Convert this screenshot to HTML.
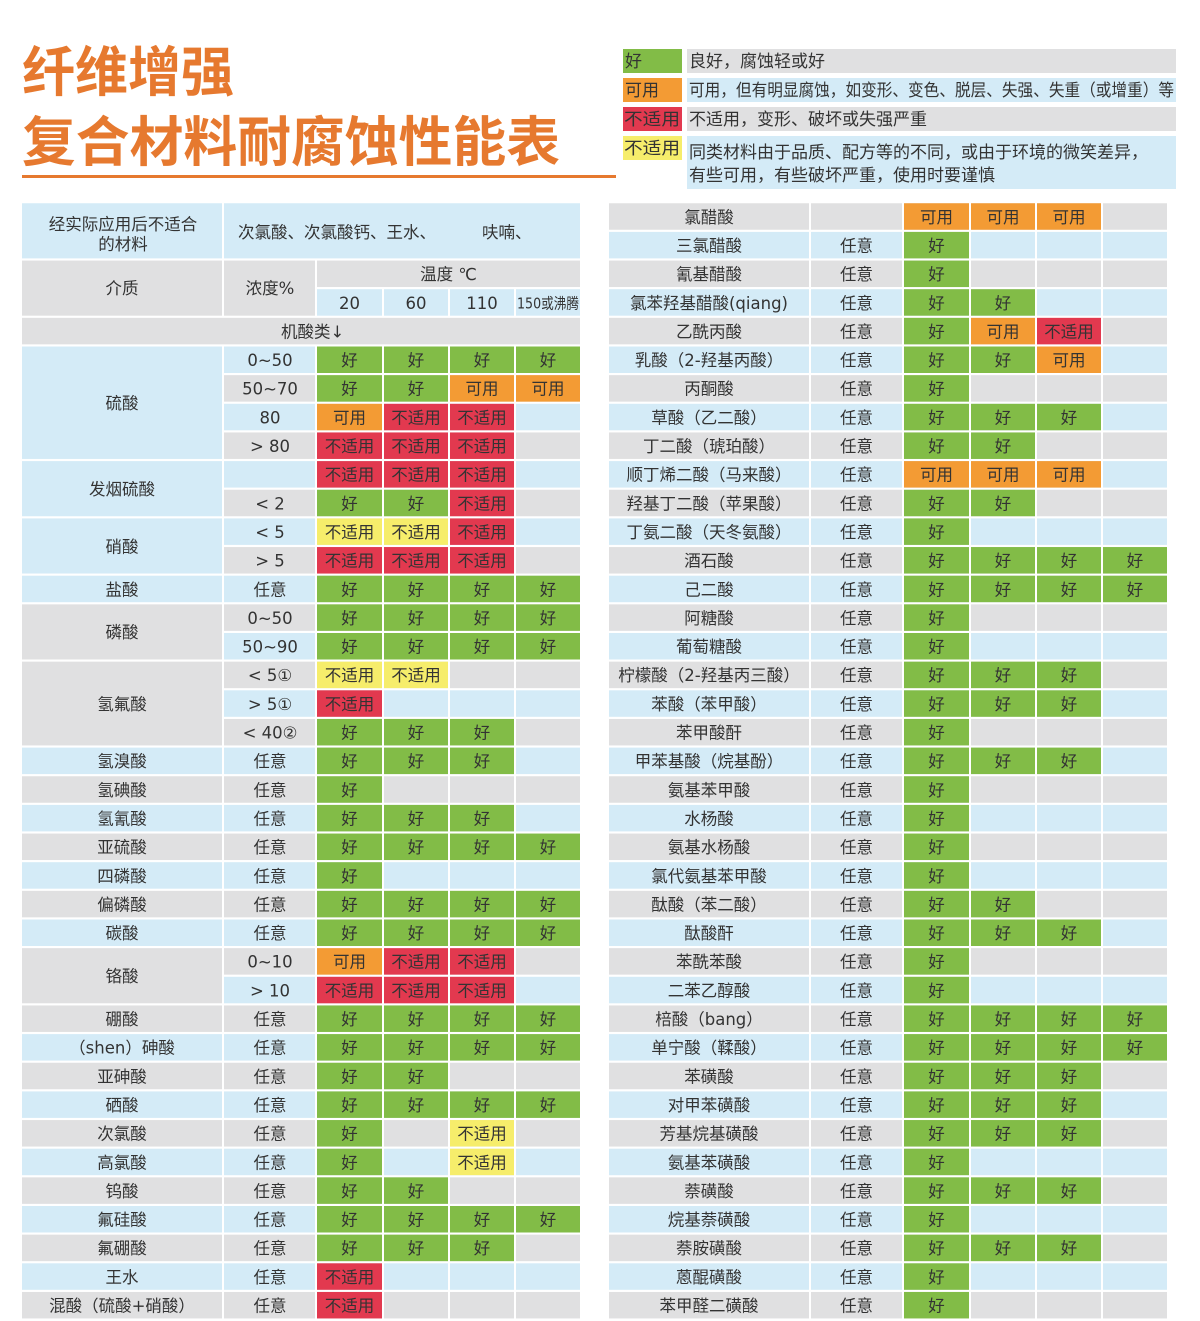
<!DOCTYPE html>
<html>
<head>
<meta charset="utf-8">
<style>
html,body{margin:0;padding:0;background:#fff;}
svg{display:block;}
text{font-family:"DejaVu Sans","Liberation Sans","Noto Sans CJK SC",sans-serif;font-size:16.5px;fill:#333;}
.t text,text.c{text-anchor:middle;}
.b{fill:#d4ebf7}.g{fill:#e0e0e1}.G{fill:#82bc47}.O{fill:#f39b34}.R{fill:#e2394f}.Y{fill:#f6ed6b}
.w{fill:#fff}
</style>
</head>
<body>
<svg width="1200" height="1321" viewBox="0 0 1200 1321" xmlns="http://www.w3.org/2000/svg">
<!-- Title -->
<text x="22" y="91" textLength="212" lengthAdjust="spacingAndGlyphs" style="font-family:'Noto Sans CJK SC','Liberation Sans',sans-serif;font-size:54px;font-weight:bold;fill:#e6792f;">纤维增强</text>
<text x="22" y="161" textLength="538" lengthAdjust="spacingAndGlyphs" style="font-family:'Noto Sans CJK SC','Liberation Sans',sans-serif;font-size:54px;font-weight:bold;fill:#e6792f;">复合材料耐腐蚀性能表</text>
<rect x="22" y="175" width="594" height="3" fill="#e6792f"/>

<!-- Legend -->
<rect class="G" x="623" y="49" width="59" height="24"/>
<rect class="g" x="687" y="49" width="489" height="24"/>
<text x="625" y="67" style="font-size:17px">好</text>
<text x="689" y="67" style="font-size:17px">良好，腐蚀轻或好</text>
<rect class="O" x="623" y="78" width="59" height="24"/>
<rect class="b" x="687" y="78" width="489" height="24"/>
<text x="625" y="96" style="font-size:17px">可用</text>
<text x="689" y="96" textLength="485" lengthAdjust="spacingAndGlyphs" style="font-size:17px">可用，但有明显腐蚀，如变形、变色、脱层、失强、失重（或增重）等</text>
<rect class="R" x="623" y="107" width="59" height="24"/>
<rect class="g" x="687" y="107" width="489" height="24"/>
<text x="624" y="125" textLength="56" lengthAdjust="spacingAndGlyphs" style="font-size:17px">不适用</text>
<text x="689" y="125" style="font-size:17px">不适用，变形、破坏或失强严重</text>
<rect class="Y" x="623" y="136" width="59" height="24"/>
<rect class="b" x="687" y="136" width="489" height="53"/>
<text x="624" y="154" textLength="56" lengthAdjust="spacingAndGlyphs" style="font-size:17px">不适用</text>
<text x="689" y="158" style="font-size:17px">同类材料由于品质、配方等的不同，或由于环境的微笑差异，</text>
<text x="689" y="181" style="font-size:17px">有些可用，有些破坏严重，使用时要谨慎</text>

<!-- Left header -->
<rect class="b" x="22" y="203.25" width="200" height="55.15"/>
<rect class="b" x="224" y="203.25" width="356" height="55.15"/>
<text class="c" x="123" y="230">经实际应用后不适合</text>
<text class="c" x="123" y="250">的材料</text>
<text x="238" y="238">次氯酸、次氯酸钙、王水、</text>
<text x="482" y="238">呋喃、</text>
<rect class="g" x="22" y="260.55" width="200" height="55.15"/>
<rect class="g" x="224" y="260.55" width="91" height="55.15"/>
<rect class="g" x="317" y="260.55" width="263" height="26.5"/>
<rect class="b" x="317" y="289.2" width="65" height="26.5"/>
<rect class="b" x="384" y="289.2" width="64" height="26.5"/>
<rect class="b" x="450" y="289.2" width="64" height="26.5"/>
<rect class="b" x="516" y="289.2" width="64" height="26.5"/>
<text class="c" x="122" y="294">介质</text>
<text class="c" x="270" y="294">浓度%</text>
<text class="c" x="448.5" y="280">温度 ℃</text>
<text class="c" x="349.5" y="309">20</text>
<text class="c" x="416" y="309">60</text>
<text class="c" x="482" y="309">110</text>
<text x="517" y="308.5" textLength="62" lengthAdjust="spacingAndGlyphs" style="font-size:15px">150或沸腾</text>
<rect class="g" x="22" y="317.85" width="558" height="26.5"/>
<text x="281" y="337.5">机酸类↓</text>

<!-- Left merged name cells -->
<rect class="b" x="22" y="346.5" width="200" height="112.45"/>
<text class="c" x="122" y="409">硫酸</text>
<rect class="b" x="22" y="461.1" width="200" height="55.15"/>
<text class="c" x="122" y="495">发烟硫酸</text>
<rect class="b" x="22" y="518.4" width="200" height="55.15"/>
<text class="c" x="122" y="552.3">硝酸</text>
<rect class="g" x="22" y="604.35" width="200" height="55.15"/>
<text class="c" x="122" y="638.2">磷酸</text>
<rect class="g" x="22" y="661.65" width="200" height="83.8"/>
<text class="c" x="122" y="709.9">氢氟酸</text>
<rect class="g" x="22" y="948.15" width="200" height="55.15"/>
<text class="c" x="122" y="982">铬酸</text>

<!-- Left data rows -->
<g class="t">
<g transform="translate(0,346.5)"><rect class="b" x="224" width="356" height="26.5"/><rect class="G" x="317" width="65" height="26.5"/><rect class="G" x="384" width="64" height="26.5"/><rect class="G" x="450" width="64" height="26.5"/><rect class="G" x="516" width="64" height="26.5"/><text y="19.6"><tspan x="270">0~50</tspan><tspan x="349.5">好</tspan><tspan x="416">好</tspan><tspan x="482">好</tspan><tspan x="548">好</tspan></text></g>
<g transform="translate(0,375.15)"><rect class="g" x="224" width="356" height="26.5"/><rect class="G" x="317" width="65" height="26.5"/><rect class="G" x="384" width="64" height="26.5"/><rect class="O" x="450" width="64" height="26.5"/><rect class="O" x="516" width="64" height="26.5"/><text y="19.6"><tspan x="270">50~70</tspan><tspan x="349.5">好</tspan><tspan x="416">好</tspan><tspan x="482">可用</tspan><tspan x="548">可用</tspan></text></g>
<g transform="translate(0,403.8)"><rect class="b" x="224" width="356" height="26.5"/><rect class="O" x="317" width="65" height="26.5"/><rect class="R" x="384" width="64" height="26.5"/><rect class="R" x="450" width="64" height="26.5"/><text y="19.6"><tspan x="270">80</tspan><tspan x="349.5">可用</tspan><tspan x="416">不适用</tspan><tspan x="482">不适用</tspan></text></g>
<g transform="translate(0,432.45)"><rect class="g" x="224" width="356" height="26.5"/><rect class="R" x="317" width="65" height="26.5"/><rect class="R" x="384" width="64" height="26.5"/><rect class="R" x="450" width="64" height="26.5"/><text y="19.6"><tspan x="270">&gt; 80</tspan><tspan x="349.5">不适用</tspan><tspan x="416">不适用</tspan><tspan x="482">不适用</tspan></text></g>
<g transform="translate(0,461.1)"><rect class="b" x="224" width="356" height="26.5"/><rect class="R" x="317" width="65" height="26.5"/><rect class="R" x="384" width="64" height="26.5"/><rect class="R" x="450" width="64" height="26.5"/><text y="19.6"><tspan x="349.5">不适用</tspan><tspan x="416">不适用</tspan><tspan x="482">不适用</tspan></text></g>
<g transform="translate(0,489.75)"><rect class="g" x="224" width="356" height="26.5"/><rect class="G" x="317" width="65" height="26.5"/><rect class="G" x="384" width="64" height="26.5"/><rect class="R" x="450" width="64" height="26.5"/><text y="19.6"><tspan x="270">&lt; 2</tspan><tspan x="349.5">好</tspan><tspan x="416">好</tspan><tspan x="482">不适用</tspan></text></g>
<g transform="translate(0,518.4)"><rect class="b" x="224" width="356" height="26.5"/><rect class="Y" x="317" width="65" height="26.5"/><rect class="Y" x="384" width="64" height="26.5"/><rect class="R" x="450" width="64" height="26.5"/><text y="19.6"><tspan x="270">&lt; 5</tspan><tspan x="349.5">不适用</tspan><tspan x="416">不适用</tspan><tspan x="482">不适用</tspan></text></g>
<g transform="translate(0,547.05)"><rect class="g" x="224" width="356" height="26.5"/><rect class="R" x="317" width="65" height="26.5"/><rect class="R" x="384" width="64" height="26.5"/><rect class="R" x="450" width="64" height="26.5"/><text y="19.6"><tspan x="270">&gt; 5</tspan><tspan x="349.5">不适用</tspan><tspan x="416">不适用</tspan><tspan x="482">不适用</tspan></text></g>
<g transform="translate(0,575.7)"><rect class="b" x="22" width="558" height="26.5"/><rect class="G" x="317" width="65" height="26.5"/><rect class="G" x="384" width="64" height="26.5"/><rect class="G" x="450" width="64" height="26.5"/><rect class="G" x="516" width="64" height="26.5"/><text y="19.6"><tspan x="122">盐酸</tspan><tspan x="270">任意</tspan><tspan x="349.5">好</tspan><tspan x="416">好</tspan><tspan x="482">好</tspan><tspan x="548">好</tspan></text></g>
<g transform="translate(0,604.35)"><rect class="g" x="224" width="356" height="26.5"/><rect class="G" x="317" width="65" height="26.5"/><rect class="G" x="384" width="64" height="26.5"/><rect class="G" x="450" width="64" height="26.5"/><rect class="G" x="516" width="64" height="26.5"/><text y="19.6"><tspan x="270">0~50</tspan><tspan x="349.5">好</tspan><tspan x="416">好</tspan><tspan x="482">好</tspan><tspan x="548">好</tspan></text></g>
<g transform="translate(0,633)"><rect class="b" x="224" width="356" height="26.5"/><rect class="G" x="317" width="65" height="26.5"/><rect class="G" x="384" width="64" height="26.5"/><rect class="G" x="450" width="64" height="26.5"/><rect class="G" x="516" width="64" height="26.5"/><text y="19.6"><tspan x="270">50~90</tspan><tspan x="349.5">好</tspan><tspan x="416">好</tspan><tspan x="482">好</tspan><tspan x="548">好</tspan></text></g>
<g transform="translate(0,661.65)"><rect class="g" x="224" width="356" height="26.5"/><rect class="Y" x="317" width="65" height="26.5"/><rect class="Y" x="384" width="64" height="26.5"/><text y="19.6"><tspan x="270">&lt; 5①</tspan><tspan x="349.5">不适用</tspan><tspan x="416">不适用</tspan></text></g>
<g transform="translate(0,690.3)"><rect class="b" x="224" width="356" height="26.5"/><rect class="R" x="317" width="65" height="26.5"/><text y="19.6"><tspan x="270">&gt; 5①</tspan><tspan x="349.5">不适用</tspan></text></g>
<g transform="translate(0,718.95)"><rect class="g" x="224" width="356" height="26.5"/><rect class="G" x="317" width="65" height="26.5"/><rect class="G" x="384" width="64" height="26.5"/><rect class="G" x="450" width="64" height="26.5"/><text y="19.6"><tspan x="270">&lt; 40②</tspan><tspan x="349.5">好</tspan><tspan x="416">好</tspan><tspan x="482">好</tspan></text></g>
<g transform="translate(0,747.6)"><rect class="b" x="22" width="558" height="26.5"/><rect class="G" x="317" width="65" height="26.5"/><rect class="G" x="384" width="64" height="26.5"/><rect class="G" x="450" width="64" height="26.5"/><text y="19.6"><tspan x="122">氢溴酸</tspan><tspan x="270">任意</tspan><tspan x="349.5">好</tspan><tspan x="416">好</tspan><tspan x="482">好</tspan></text></g>
<g transform="translate(0,776.25)"><rect class="g" x="22" width="558" height="26.5"/><rect class="G" x="317" width="65" height="26.5"/><text y="19.6"><tspan x="122">氢碘酸</tspan><tspan x="270">任意</tspan><tspan x="349.5">好</tspan></text></g>
<g transform="translate(0,804.9)"><rect class="b" x="22" width="558" height="26.5"/><rect class="G" x="317" width="65" height="26.5"/><rect class="G" x="384" width="64" height="26.5"/><rect class="G" x="450" width="64" height="26.5"/><text y="19.6"><tspan x="122">氢氰酸</tspan><tspan x="270">任意</tspan><tspan x="349.5">好</tspan><tspan x="416">好</tspan><tspan x="482">好</tspan></text></g>
<g transform="translate(0,833.55)"><rect class="g" x="22" width="558" height="26.5"/><rect class="G" x="317" width="65" height="26.5"/><rect class="G" x="384" width="64" height="26.5"/><rect class="G" x="450" width="64" height="26.5"/><rect class="G" x="516" width="64" height="26.5"/><text y="19.6"><tspan x="122">亚硫酸</tspan><tspan x="270">任意</tspan><tspan x="349.5">好</tspan><tspan x="416">好</tspan><tspan x="482">好</tspan><tspan x="548">好</tspan></text></g>
<g transform="translate(0,862.2)"><rect class="b" x="22" width="558" height="26.5"/><rect class="G" x="317" width="65" height="26.5"/><text y="19.6"><tspan x="122">四磷酸</tspan><tspan x="270">任意</tspan><tspan x="349.5">好</tspan></text></g>
<g transform="translate(0,890.85)"><rect class="g" x="22" width="558" height="26.5"/><rect class="G" x="317" width="65" height="26.5"/><rect class="G" x="384" width="64" height="26.5"/><rect class="G" x="450" width="64" height="26.5"/><rect class="G" x="516" width="64" height="26.5"/><text y="19.6"><tspan x="122">偏磷酸</tspan><tspan x="270">任意</tspan><tspan x="349.5">好</tspan><tspan x="416">好</tspan><tspan x="482">好</tspan><tspan x="548">好</tspan></text></g>
<g transform="translate(0,919.5)"><rect class="b" x="22" width="558" height="26.5"/><rect class="G" x="317" width="65" height="26.5"/><rect class="G" x="384" width="64" height="26.5"/><rect class="G" x="450" width="64" height="26.5"/><rect class="G" x="516" width="64" height="26.5"/><text y="19.6"><tspan x="122">碳酸</tspan><tspan x="270">任意</tspan><tspan x="349.5">好</tspan><tspan x="416">好</tspan><tspan x="482">好</tspan><tspan x="548">好</tspan></text></g>
<g transform="translate(0,948.15)"><rect class="g" x="224" width="356" height="26.5"/><rect class="O" x="317" width="65" height="26.5"/><rect class="R" x="384" width="64" height="26.5"/><rect class="R" x="450" width="64" height="26.5"/><text y="19.6"><tspan x="270">0~10</tspan><tspan x="349.5">可用</tspan><tspan x="416">不适用</tspan><tspan x="482">不适用</tspan></text></g>
<g transform="translate(0,976.8)"><rect class="b" x="224" width="356" height="26.5"/><rect class="R" x="317" width="65" height="26.5"/><rect class="R" x="384" width="64" height="26.5"/><rect class="R" x="450" width="64" height="26.5"/><text y="19.6"><tspan x="270">&gt; 10</tspan><tspan x="349.5">不适用</tspan><tspan x="416">不适用</tspan><tspan x="482">不适用</tspan></text></g>
<g transform="translate(0,1005.45)"><rect class="g" x="22" width="558" height="26.5"/><rect class="G" x="317" width="65" height="26.5"/><rect class="G" x="384" width="64" height="26.5"/><rect class="G" x="450" width="64" height="26.5"/><rect class="G" x="516" width="64" height="26.5"/><text y="19.6"><tspan x="122">硼酸</tspan><tspan x="270">任意</tspan><tspan x="349.5">好</tspan><tspan x="416">好</tspan><tspan x="482">好</tspan><tspan x="548">好</tspan></text></g>
<g transform="translate(0,1034.1)"><rect class="b" x="22" width="558" height="26.5"/><rect class="G" x="317" width="65" height="26.5"/><rect class="G" x="384" width="64" height="26.5"/><rect class="G" x="450" width="64" height="26.5"/><rect class="G" x="516" width="64" height="26.5"/><text y="19.6"><tspan x="122">（shen）砷酸</tspan><tspan x="270">任意</tspan><tspan x="349.5">好</tspan><tspan x="416">好</tspan><tspan x="482">好</tspan><tspan x="548">好</tspan></text></g>
<g transform="translate(0,1062.75)"><rect class="g" x="22" width="558" height="26.5"/><rect class="G" x="317" width="65" height="26.5"/><rect class="G" x="384" width="64" height="26.5"/><text y="19.6"><tspan x="122">亚砷酸</tspan><tspan x="270">任意</tspan><tspan x="349.5">好</tspan><tspan x="416">好</tspan></text></g>
<g transform="translate(0,1091.4)"><rect class="b" x="22" width="558" height="26.5"/><rect class="G" x="317" width="65" height="26.5"/><rect class="G" x="384" width="64" height="26.5"/><rect class="G" x="450" width="64" height="26.5"/><rect class="G" x="516" width="64" height="26.5"/><text y="19.6"><tspan x="122">硒酸</tspan><tspan x="270">任意</tspan><tspan x="349.5">好</tspan><tspan x="416">好</tspan><tspan x="482">好</tspan><tspan x="548">好</tspan></text></g>
<g transform="translate(0,1120.05)"><rect class="g" x="22" width="558" height="26.5"/><rect class="G" x="317" width="65" height="26.5"/><rect class="Y" x="450" width="64" height="26.5"/><text y="19.6"><tspan x="122">次氯酸</tspan><tspan x="270">任意</tspan><tspan x="349.5">好</tspan><tspan x="482">不适用</tspan></text></g>
<g transform="translate(0,1148.7)"><rect class="b" x="22" width="558" height="26.5"/><rect class="G" x="317" width="65" height="26.5"/><rect class="Y" x="450" width="64" height="26.5"/><text y="19.6"><tspan x="122">高氯酸</tspan><tspan x="270">任意</tspan><tspan x="349.5">好</tspan><tspan x="482">不适用</tspan></text></g>
<g transform="translate(0,1177.35)"><rect class="g" x="22" width="558" height="26.5"/><rect class="G" x="317" width="65" height="26.5"/><rect class="G" x="384" width="64" height="26.5"/><text y="19.6"><tspan x="122">钨酸</tspan><tspan x="270">任意</tspan><tspan x="349.5">好</tspan><tspan x="416">好</tspan></text></g>
<g transform="translate(0,1206)"><rect class="b" x="22" width="558" height="26.5"/><rect class="G" x="317" width="65" height="26.5"/><rect class="G" x="384" width="64" height="26.5"/><rect class="G" x="450" width="64" height="26.5"/><rect class="G" x="516" width="64" height="26.5"/><text y="19.6"><tspan x="122">氟硅酸</tspan><tspan x="270">任意</tspan><tspan x="349.5">好</tspan><tspan x="416">好</tspan><tspan x="482">好</tspan><tspan x="548">好</tspan></text></g>
<g transform="translate(0,1234.65)"><rect class="g" x="22" width="558" height="26.5"/><rect class="G" x="317" width="65" height="26.5"/><rect class="G" x="384" width="64" height="26.5"/><rect class="G" x="450" width="64" height="26.5"/><text y="19.6"><tspan x="122">氟硼酸</tspan><tspan x="270">任意</tspan><tspan x="349.5">好</tspan><tspan x="416">好</tspan><tspan x="482">好</tspan></text></g>
<g transform="translate(0,1263.3)"><rect class="b" x="22" width="558" height="26.5"/><rect class="R" x="317" width="65" height="26.5"/><text y="19.6"><tspan x="122">王水</tspan><tspan x="270">任意</tspan><tspan x="349.5">不适用</tspan></text></g>
<g transform="translate(0,1291.95)"><rect class="g" x="22" width="558" height="26.5"/><rect class="R" x="317" width="65" height="26.5"/><text y="19.6"><tspan x="122">混酸（硫酸+硝酸）</tspan><tspan x="270">任意</tspan><tspan x="349.5">不适用</tspan></text></g>
</g>
<!-- Left vertical gaps -->
<rect class="w" x="222" y="346.5" width="2" height="972"/>
<rect class="w" x="315" y="346.5" width="2" height="972"/>
<rect class="w" x="382" y="346.5" width="2" height="972"/>
<rect class="w" x="448" y="346.5" width="2" height="972"/>
<rect class="w" x="514" y="346.5" width="2" height="972"/>

<!-- Right data rows -->
<g class="t">
<g transform="translate(0,203.25)"><rect class="g" x="609" width="558" height="26.5"/><rect class="O" x="904" width="65" height="26.5"/><rect class="O" x="971" width="64" height="26.5"/><rect class="O" x="1037" width="64" height="26.5"/><text y="19.6"><tspan x="709">氯醋酸</tspan><tspan x="936.5">可用</tspan><tspan x="1003">可用</tspan><tspan x="1069">可用</tspan></text></g>
<g transform="translate(0,231.9)"><rect class="b" x="609" width="558" height="26.5"/><rect class="G" x="904" width="65" height="26.5"/><text y="19.6"><tspan x="709">三氯醋酸</tspan><tspan x="856.5">任意</tspan><tspan x="936.5">好</tspan></text></g>
<g transform="translate(0,260.55)"><rect class="g" x="609" width="558" height="26.5"/><rect class="G" x="904" width="65" height="26.5"/><text y="19.6"><tspan x="709">氰基醋酸</tspan><tspan x="856.5">任意</tspan><tspan x="936.5">好</tspan></text></g>
<g transform="translate(0,289.2)"><rect class="b" x="609" width="558" height="26.5"/><rect class="G" x="904" width="65" height="26.5"/><rect class="G" x="971" width="64" height="26.5"/><text y="19.6"><tspan x="709">氯苯羟基醋酸(qiang)</tspan><tspan x="856.5">任意</tspan><tspan x="936.5">好</tspan><tspan x="1003">好</tspan></text></g>
<g transform="translate(0,317.85)"><rect class="g" x="609" width="558" height="26.5"/><rect class="G" x="904" width="65" height="26.5"/><rect class="O" x="971" width="64" height="26.5"/><rect class="R" x="1037" width="64" height="26.5"/><text y="19.6"><tspan x="709">乙酰丙酸</tspan><tspan x="856.5">任意</tspan><tspan x="936.5">好</tspan><tspan x="1003">可用</tspan><tspan x="1069">不适用</tspan></text></g>
<g transform="translate(0,346.5)"><rect class="b" x="609" width="558" height="26.5"/><rect class="G" x="904" width="65" height="26.5"/><rect class="G" x="971" width="64" height="26.5"/><rect class="O" x="1037" width="64" height="26.5"/><text y="19.6"><tspan x="709">乳酸（2-羟基丙酸）</tspan><tspan x="856.5">任意</tspan><tspan x="936.5">好</tspan><tspan x="1003">好</tspan><tspan x="1069">可用</tspan></text></g>
<g transform="translate(0,375.15)"><rect class="g" x="609" width="558" height="26.5"/><rect class="G" x="904" width="65" height="26.5"/><text y="19.6"><tspan x="709">丙酮酸</tspan><tspan x="856.5">任意</tspan><tspan x="936.5">好</tspan></text></g>
<g transform="translate(0,403.8)"><rect class="b" x="609" width="558" height="26.5"/><rect class="G" x="904" width="65" height="26.5"/><rect class="G" x="971" width="64" height="26.5"/><rect class="G" x="1037" width="64" height="26.5"/><text y="19.6"><tspan x="709">草酸（乙二酸）</tspan><tspan x="856.5">任意</tspan><tspan x="936.5">好</tspan><tspan x="1003">好</tspan><tspan x="1069">好</tspan></text></g>
<g transform="translate(0,432.45)"><rect class="g" x="609" width="558" height="26.5"/><rect class="G" x="904" width="65" height="26.5"/><rect class="G" x="971" width="64" height="26.5"/><text y="19.6"><tspan x="709">丁二酸（琥珀酸）</tspan><tspan x="856.5">任意</tspan><tspan x="936.5">好</tspan><tspan x="1003">好</tspan></text></g>
<g transform="translate(0,461.1)"><rect class="b" x="609" width="558" height="26.5"/><rect class="O" x="904" width="65" height="26.5"/><rect class="O" x="971" width="64" height="26.5"/><rect class="O" x="1037" width="64" height="26.5"/><text y="19.6"><tspan x="709">顺丁烯二酸（马来酸）</tspan><tspan x="856.5">任意</tspan><tspan x="936.5">可用</tspan><tspan x="1003">可用</tspan><tspan x="1069">可用</tspan></text></g>
<g transform="translate(0,489.75)"><rect class="g" x="609" width="558" height="26.5"/><rect class="G" x="904" width="65" height="26.5"/><rect class="G" x="971" width="64" height="26.5"/><text y="19.6"><tspan x="709">羟基丁二酸（苹果酸）</tspan><tspan x="856.5">任意</tspan><tspan x="936.5">好</tspan><tspan x="1003">好</tspan></text></g>
<g transform="translate(0,518.4)"><rect class="b" x="609" width="558" height="26.5"/><rect class="G" x="904" width="65" height="26.5"/><text y="19.6"><tspan x="709">丁氨二酸（天冬氨酸）</tspan><tspan x="856.5">任意</tspan><tspan x="936.5">好</tspan></text></g>
<g transform="translate(0,547.05)"><rect class="g" x="609" width="558" height="26.5"/><rect class="G" x="904" width="65" height="26.5"/><rect class="G" x="971" width="64" height="26.5"/><rect class="G" x="1037" width="64" height="26.5"/><rect class="G" x="1103" width="64" height="26.5"/><text y="19.6"><tspan x="709">酒石酸</tspan><tspan x="856.5">任意</tspan><tspan x="936.5">好</tspan><tspan x="1003">好</tspan><tspan x="1069">好</tspan><tspan x="1135">好</tspan></text></g>
<g transform="translate(0,575.7)"><rect class="b" x="609" width="558" height="26.5"/><rect class="G" x="904" width="65" height="26.5"/><rect class="G" x="971" width="64" height="26.5"/><rect class="G" x="1037" width="64" height="26.5"/><rect class="G" x="1103" width="64" height="26.5"/><text y="19.6"><tspan x="709">己二酸</tspan><tspan x="856.5">任意</tspan><tspan x="936.5">好</tspan><tspan x="1003">好</tspan><tspan x="1069">好</tspan><tspan x="1135">好</tspan></text></g>
<g transform="translate(0,604.35)"><rect class="g" x="609" width="558" height="26.5"/><rect class="G" x="904" width="65" height="26.5"/><text y="19.6"><tspan x="709">阿糖酸</tspan><tspan x="856.5">任意</tspan><tspan x="936.5">好</tspan></text></g>
<g transform="translate(0,633)"><rect class="b" x="609" width="558" height="26.5"/><rect class="G" x="904" width="65" height="26.5"/><text y="19.6"><tspan x="709">葡萄糖酸</tspan><tspan x="856.5">任意</tspan><tspan x="936.5">好</tspan></text></g>
<g transform="translate(0,661.65)"><rect class="g" x="609" width="558" height="26.5"/><rect class="G" x="904" width="65" height="26.5"/><rect class="G" x="971" width="64" height="26.5"/><rect class="G" x="1037" width="64" height="26.5"/><text y="19.6"><tspan x="709">柠檬酸（2-羟基丙三酸）</tspan><tspan x="856.5">任意</tspan><tspan x="936.5">好</tspan><tspan x="1003">好</tspan><tspan x="1069">好</tspan></text></g>
<g transform="translate(0,690.3)"><rect class="b" x="609" width="558" height="26.5"/><rect class="G" x="904" width="65" height="26.5"/><rect class="G" x="971" width="64" height="26.5"/><rect class="G" x="1037" width="64" height="26.5"/><text y="19.6"><tspan x="709">苯酸（苯甲酸）</tspan><tspan x="856.5">任意</tspan><tspan x="936.5">好</tspan><tspan x="1003">好</tspan><tspan x="1069">好</tspan></text></g>
<g transform="translate(0,718.95)"><rect class="g" x="609" width="558" height="26.5"/><rect class="G" x="904" width="65" height="26.5"/><text y="19.6"><tspan x="709">苯甲酸酐</tspan><tspan x="856.5">任意</tspan><tspan x="936.5">好</tspan></text></g>
<g transform="translate(0,747.6)"><rect class="b" x="609" width="558" height="26.5"/><rect class="G" x="904" width="65" height="26.5"/><rect class="G" x="971" width="64" height="26.5"/><rect class="G" x="1037" width="64" height="26.5"/><text y="19.6"><tspan x="709">甲苯基酸（烷基酚）</tspan><tspan x="856.5">任意</tspan><tspan x="936.5">好</tspan><tspan x="1003">好</tspan><tspan x="1069">好</tspan></text></g>
<g transform="translate(0,776.25)"><rect class="g" x="609" width="558" height="26.5"/><rect class="G" x="904" width="65" height="26.5"/><text y="19.6"><tspan x="709">氨基苯甲酸</tspan><tspan x="856.5">任意</tspan><tspan x="936.5">好</tspan></text></g>
<g transform="translate(0,804.9)"><rect class="b" x="609" width="558" height="26.5"/><rect class="G" x="904" width="65" height="26.5"/><text y="19.6"><tspan x="709">水杨酸</tspan><tspan x="856.5">任意</tspan><tspan x="936.5">好</tspan></text></g>
<g transform="translate(0,833.55)"><rect class="g" x="609" width="558" height="26.5"/><rect class="G" x="904" width="65" height="26.5"/><text y="19.6"><tspan x="709">氨基水杨酸</tspan><tspan x="856.5">任意</tspan><tspan x="936.5">好</tspan></text></g>
<g transform="translate(0,862.2)"><rect class="b" x="609" width="558" height="26.5"/><rect class="G" x="904" width="65" height="26.5"/><text y="19.6"><tspan x="709">氯代氨基苯甲酸</tspan><tspan x="856.5">任意</tspan><tspan x="936.5">好</tspan></text></g>
<g transform="translate(0,890.85)"><rect class="g" x="609" width="558" height="26.5"/><rect class="G" x="904" width="65" height="26.5"/><rect class="G" x="971" width="64" height="26.5"/><text y="19.6"><tspan x="709">酞酸（苯二酸）</tspan><tspan x="856.5">任意</tspan><tspan x="936.5">好</tspan><tspan x="1003">好</tspan></text></g>
<g transform="translate(0,919.5)"><rect class="b" x="609" width="558" height="26.5"/><rect class="G" x="904" width="65" height="26.5"/><rect class="G" x="971" width="64" height="26.5"/><rect class="G" x="1037" width="64" height="26.5"/><text y="19.6"><tspan x="709">酞酸酐</tspan><tspan x="856.5">任意</tspan><tspan x="936.5">好</tspan><tspan x="1003">好</tspan><tspan x="1069">好</tspan></text></g>
<g transform="translate(0,948.15)"><rect class="g" x="609" width="558" height="26.5"/><rect class="G" x="904" width="65" height="26.5"/><text y="19.6"><tspan x="709">苯酰苯酸</tspan><tspan x="856.5">任意</tspan><tspan x="936.5">好</tspan></text></g>
<g transform="translate(0,976.8)"><rect class="b" x="609" width="558" height="26.5"/><rect class="G" x="904" width="65" height="26.5"/><text y="19.6"><tspan x="709">二苯乙醇酸</tspan><tspan x="856.5">任意</tspan><tspan x="936.5">好</tspan></text></g>
<g transform="translate(0,1005.45)"><rect class="g" x="609" width="558" height="26.5"/><rect class="G" x="904" width="65" height="26.5"/><rect class="G" x="971" width="64" height="26.5"/><rect class="G" x="1037" width="64" height="26.5"/><rect class="G" x="1103" width="64" height="26.5"/><text y="19.6"><tspan x="709">棓酸（bang）</tspan><tspan x="856.5">任意</tspan><tspan x="936.5">好</tspan><tspan x="1003">好</tspan><tspan x="1069">好</tspan><tspan x="1135">好</tspan></text></g>
<g transform="translate(0,1034.1)"><rect class="b" x="609" width="558" height="26.5"/><rect class="G" x="904" width="65" height="26.5"/><rect class="G" x="971" width="64" height="26.5"/><rect class="G" x="1037" width="64" height="26.5"/><rect class="G" x="1103" width="64" height="26.5"/><text y="19.6"><tspan x="709">单宁酸（鞣酸）</tspan><tspan x="856.5">任意</tspan><tspan x="936.5">好</tspan><tspan x="1003">好</tspan><tspan x="1069">好</tspan><tspan x="1135">好</tspan></text></g>
<g transform="translate(0,1062.75)"><rect class="g" x="609" width="558" height="26.5"/><rect class="G" x="904" width="65" height="26.5"/><rect class="G" x="971" width="64" height="26.5"/><rect class="G" x="1037" width="64" height="26.5"/><text y="19.6"><tspan x="709">苯磺酸</tspan><tspan x="856.5">任意</tspan><tspan x="936.5">好</tspan><tspan x="1003">好</tspan><tspan x="1069">好</tspan></text></g>
<g transform="translate(0,1091.4)"><rect class="b" x="609" width="558" height="26.5"/><rect class="G" x="904" width="65" height="26.5"/><rect class="G" x="971" width="64" height="26.5"/><rect class="G" x="1037" width="64" height="26.5"/><text y="19.6"><tspan x="709">对甲苯磺酸</tspan><tspan x="856.5">任意</tspan><tspan x="936.5">好</tspan><tspan x="1003">好</tspan><tspan x="1069">好</tspan></text></g>
<g transform="translate(0,1120.05)"><rect class="g" x="609" width="558" height="26.5"/><rect class="G" x="904" width="65" height="26.5"/><rect class="G" x="971" width="64" height="26.5"/><rect class="G" x="1037" width="64" height="26.5"/><text y="19.6"><tspan x="709">芳基烷基磺酸</tspan><tspan x="856.5">任意</tspan><tspan x="936.5">好</tspan><tspan x="1003">好</tspan><tspan x="1069">好</tspan></text></g>
<g transform="translate(0,1148.7)"><rect class="b" x="609" width="558" height="26.5"/><rect class="G" x="904" width="65" height="26.5"/><text y="19.6"><tspan x="709">氨基苯磺酸</tspan><tspan x="856.5">任意</tspan><tspan x="936.5">好</tspan></text></g>
<g transform="translate(0,1177.35)"><rect class="g" x="609" width="558" height="26.5"/><rect class="G" x="904" width="65" height="26.5"/><rect class="G" x="971" width="64" height="26.5"/><rect class="G" x="1037" width="64" height="26.5"/><text y="19.6"><tspan x="709">萘磺酸</tspan><tspan x="856.5">任意</tspan><tspan x="936.5">好</tspan><tspan x="1003">好</tspan><tspan x="1069">好</tspan></text></g>
<g transform="translate(0,1206)"><rect class="b" x="609" width="558" height="26.5"/><rect class="G" x="904" width="65" height="26.5"/><text y="19.6"><tspan x="709">烷基萘磺酸</tspan><tspan x="856.5">任意</tspan><tspan x="936.5">好</tspan></text></g>
<g transform="translate(0,1234.65)"><rect class="g" x="609" width="558" height="26.5"/><rect class="G" x="904" width="65" height="26.5"/><rect class="G" x="971" width="64" height="26.5"/><rect class="G" x="1037" width="64" height="26.5"/><text y="19.6"><tspan x="709">萘胺磺酸</tspan><tspan x="856.5">任意</tspan><tspan x="936.5">好</tspan><tspan x="1003">好</tspan><tspan x="1069">好</tspan></text></g>
<g transform="translate(0,1263.3)"><rect class="b" x="609" width="558" height="26.5"/><rect class="G" x="904" width="65" height="26.5"/><text y="19.6"><tspan x="709">蒽醌磺酸</tspan><tspan x="856.5">任意</tspan><tspan x="936.5">好</tspan></text></g>
<g transform="translate(0,1291.95)"><rect class="g" x="609" width="558" height="26.5"/><rect class="G" x="904" width="65" height="26.5"/><text y="19.6"><tspan x="709">苯甲醛二磺酸</tspan><tspan x="856.5">任意</tspan><tspan x="936.5">好</tspan></text></g>
</g>
<!-- Right vertical gaps -->
<rect class="w" x="809" y="203" width="2" height="1116"/>
<rect class="w" x="902" y="203" width="2" height="1116"/>
<rect class="w" x="969" y="203" width="2" height="1116"/>
<rect class="w" x="1035" y="203" width="2" height="1116"/>
<rect class="w" x="1101" y="203" width="2" height="1116"/>
</svg>
</body>
</html>
